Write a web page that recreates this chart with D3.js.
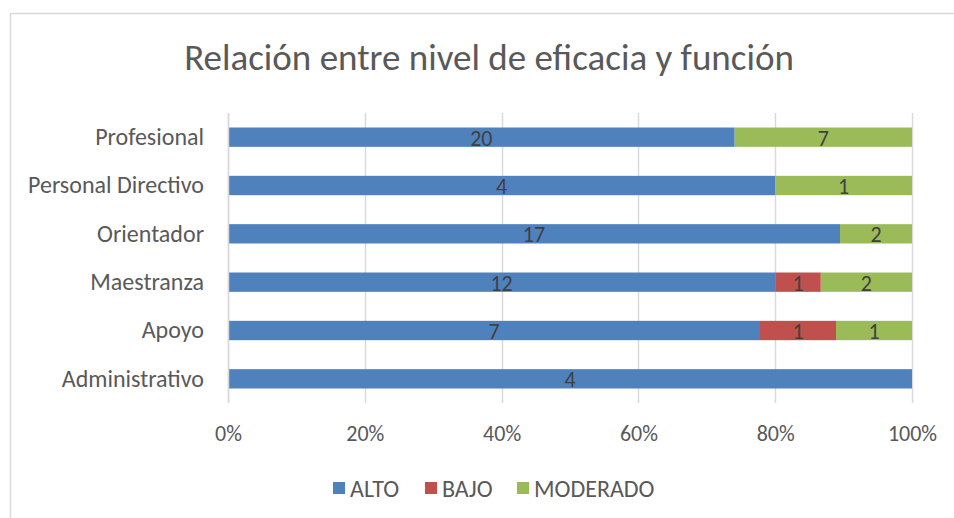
<!DOCTYPE html>
<html><head><meta charset="utf-8">
<script src="https://cdn.jsdelivr.net/npm/d3@7"></script>
<style>body{margin:0;background:#fff}svg{display:block}</style>
</head><body>
<script>
const categories = ["Profesional","Personal Directivo","Orientador","Maestranza","Apoyo","Administrativo"];
const seriesNames = ["ALTO","BAJO","MODERADO"];
const alto = [20,4,17,12,7,4];
const bajo = [0,0,0,1,1,0];
const moderado = [7,1,2,2,1,0];
const colors = ["#4f81bd","#c0504d","#9bbb59"];
const tickValues = [0,0.2,0.4,0.6,0.8,1.0];
const title = "Relación entre nivel de eficacia y función";

const W=954,H=518;
const font = "Carlito, Calibri, Lato, 'Open Sans', sans-serif";
const svg = d3.select("body").append("svg").attr("width",W).attr("height",H);
svg.append("rect").attr("x",10.5).attr("y",13.5).attr("width",W+20).attr("height",H+20)
  .attr("fill","#fff").attr("stroke","#d9d9d9").attr("stroke-width",1.5);

const m={l:228,r:912,t:113,b:403};
const x = d3.scaleLinear().domain([0,1]).range([m.l,m.r]);
const y = d3.scaleBand().domain(categories).range([m.t,m.b]).paddingInner(0.6).paddingOuter(0.3);

svg.append("text").attr("x",489).attr("y",70).attr("text-anchor","middle")
  .attr("font-family",font).attr("font-weight",300).attr("font-size",37).attr("fill","#595959").text(title);

// gridlines
svg.append("g").selectAll("line").data(tickValues).join("line")
  .attr("x1",d=>Math.round(x(d))+0.5).attr("x2",d=>Math.round(x(d))+0.5)
  .attr("y1",m.t).attr("y2",m.b).attr("stroke","#d9d9d9").attr("stroke-width",1.5);

const data = categories.map((c,i)=>({cat:c,ALTO:alto[i],BAJO:bajo[i],MODERADO:moderado[i]}));
const stack = d3.stack().keys(seriesNames).offset(d3.stackOffsetExpand);
const layers = stack(data);

layers.forEach((layer,li)=>{
  const g = svg.append("g");
  g.selectAll("rect").data(layer).join("rect")
    .attr("x",d=>x(d[0])).attr("width",d=>Math.max(0,x(d[1])-x(d[0])))
    .attr("y",d=>y(d.data.cat)).attr("height",y.bandwidth())
    .attr("fill",colors[li]);
  g.selectAll("text").data(layer.filter(d=>d.data[seriesNames[li]]>0)).join("text")
    .attr("x",d=>(x(d[0])+x(d[1]))/2).attr("y",d=>y(d.data.cat)+y.bandwidth()/2)
    .attr("dy","0.38em").attr("text-anchor","middle")
    .attr("font-family",font).attr("font-size",22).attr("fill","#404040")
    .text(d=>d.data[seriesNames[li]]);
});

// y axis line
svg.append("line").attr("x1",m.l+0.5).attr("x2",m.l+0.5).attr("y1",m.t).attr("y2",m.b)
  .attr("stroke","#d9d9d9").attr("stroke-width",1.5);

// category labels
const yAxis = svg.append("g").attr("transform",`translate(${m.l-24},0)`)
  .call(d3.axisLeft(y).tickSize(0).tickPadding(0));
yAxis.select(".domain").remove();
yAxis.selectAll("text").attr("font-family",font).attr("font-size",24).attr("fill","#595959");

// x axis labels
const xAxis = svg.append("g").attr("transform",`translate(0,${m.b+22})`)
  .call(d3.axisBottom(x).tickValues(tickValues).tickFormat(d3.format(".0%")).tickSize(0).tickPadding(0));
xAxis.select(".domain").remove();
xAxis.selectAll("text").attr("font-family",font).attr("font-size",22).attr("fill","#595959");

// legend
const legX=[333,425,517];
const leg = svg.append("g");
seriesNames.forEach((s,i)=>{
  leg.append("rect").attr("x",legX[i]).attr("y",482).attr("width",12).attr("height",12).attr("fill",colors[i]);
  leg.append("text").attr("x",legX[i]+17).attr("y",488).attr("dy","0.36em")
    .attr("font-family",font).attr("font-size",24).attr("fill","#595959").text(s);
});
</script>
</body></html>
